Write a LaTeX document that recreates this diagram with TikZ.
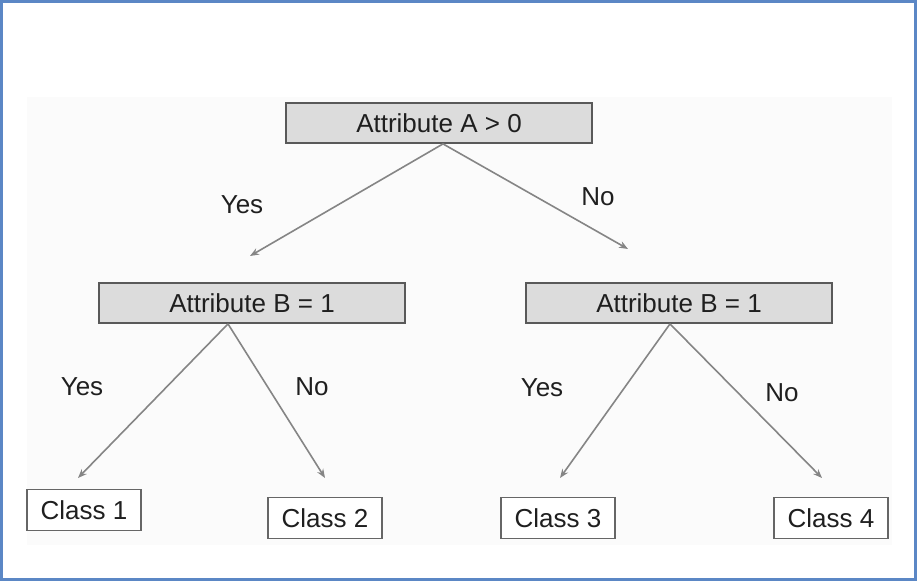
\documentclass[tikz,border=0pt]{standalone}
\usepackage{fontspec}
\setmainfont{Liberation Sans}
\usepackage{tikz}
\usetikzlibrary{arrows.meta}

\definecolor{frameblue}{HTML}{5B87C5}
\definecolor{testgray}{HTML}{DCDCDC}
\definecolor{edgegray}{HTML}{858585}

\begin{document}
\begin{tikzpicture}[x=0.5pt, y=-0.5pt,
        every node/.style={font=\fontsize{13}{15}\selectfont, text=black!88},
        test/.style={draw=black!65, line width=0.9pt, fill=testgray, minimum width=153pt, minimum height=20pt, inner sep=0pt},
        leaf/.style={draw=black!60, line width=0.9pt, fill=white, minimum width=57pt, minimum height=20.5pt, inner sep=0pt},
        branch/.style={draw=edgegray, line width=0.8pt, -{Stealth[length=4.5pt, width=3.5pt]}}]
        \useasboundingbox (0,0) rectangle (917,581);
        \fill[gray!3] (27,97) rectangle (892,545);
        \draw[frameblue, line width=1.5pt] (1.5,1.5) rectangle (915.5,579.5);

        \node[test] (rootA) at (439,123) {Attribute A > 0};
        \node[test] (leftB) at (252,303) {Attribute B = 1};
        \node[test] (rightB) at (679,303) {Attribute B = 1};

        \node[leaf] (class1) at (84,510) {Class 1};
        \node[leaf] (class2) at (325,518) {Class 2};
        \node[leaf] (class3) at (558,518) {Class 3};
        \node[leaf] (class4) at (831,518) {Class 4};

        \coordinate (tipA1) at (250,256);
        \coordinate (tipA2) at (628,249);
        \coordinate (tip1) at (78,478);
        \coordinate (tip2) at (325,478);
        \coordinate (tip3) at (560,478);
        \coordinate (tip4) at (822,478);

        \draw[branch] ([xshift=2pt]rootA.south) -- (tipA1);
        \draw[branch] ([xshift=2pt]rootA.south) -- (tipA2);
        \draw[branch] ([xshift=-12pt]leftB.south) -- (tip1);
        \draw[branch] ([xshift=-12pt]leftB.south) -- (tip2);
        \draw[branch] ([xshift=-4.5pt]rightB.south) -- (tip3);
        \draw[branch] ([xshift=-4.5pt]rightB.south) -- (tip4);

        \node (yesA) at (242,205) {Yes};
        \node (noA) at (598,197) {No};
        \node (yes1) at (82,387) {Yes};
        \node (no1) at (312,387) {No};
        \node (yes2) at (542,388) {Yes};
        \node (no2) at (782,393) {No};
    \end{tikzpicture}
\end{document}
